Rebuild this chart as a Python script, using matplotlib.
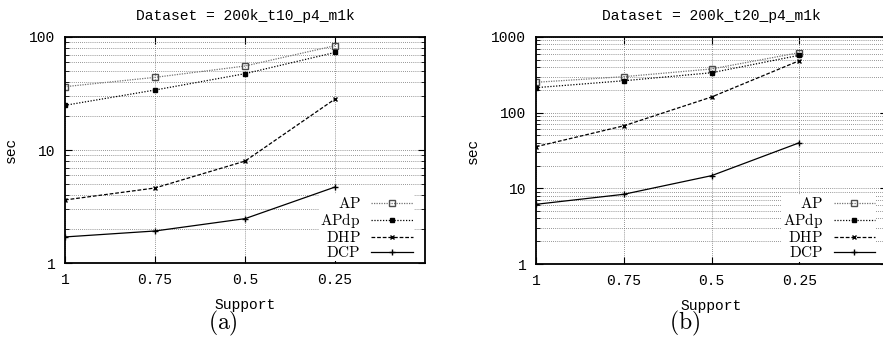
import matplotlib
matplotlib.use('Agg')
import matplotlib.pyplot as plt
from matplotlib.ticker import LogLocator, NullFormatter, FixedLocator

plt.rcParams['mathtext.fontset'] = 'cm'
mono = 'Liberation Mono'

support = [1, 0.75, 0.5, 0.25]
support_labels = ['1', '0.75', '0.5', '0.25']

# (a) 200k_t10_p4_m1k
t10_ap = [36.4, 44.0, 55.4, 83.8]
t10_apdp = [24.9, 34.0, 47.4, 73.0]
t10_dhp = [3.63, 4.63, 8.0, 28.3]
t10_dcp = [1.71, 1.93, 2.48, 4.72]

# (b) 200k_t20_p4_m1k
t20_ap = [252, 299, 378, 621]
t20_apdp = [214, 264, 337, 573]
t20_dhp = [35.5, 67, 161, 486]
t20_dcp = [6.15, 8.34, 14.7, 40]

names = ['AP', 'APdp', 'DHP', 'DCP']

styles = [
    dict(color='0.45', linestyle=(0, (1, 1)), marker='s', ms=4.5, mfc='none', mec='0.3', mew=1.0),
    dict(color='black', linestyle=(0, (1, 1.3)), marker='s', ms=3.2, mfc='black', mec='black'),
    dict(color='black', linestyle=(0, (3, 1.5)), marker='x', ms=3.5, mew=1.0),
    dict(color='black', linestyle='-', marker='+', ms=4.5, mew=1.0),
]

fig = plt.figure(figsize=(8.83, 3.37), dpi=100)


def draw(ax, series, ytop, title, tag, tagx):
    for name, ys, st in zip(names, series, styles):
        ax.plot(support, ys, lw=0.9, label=r'$\mathrm{%s}$' % name, **st)
    ax.set_yscale('log')
    ax.set_ylim(1, ytop)
    ax.set_xlim(1, 0)
    ax.xaxis.set_major_locator(FixedLocator(support))
    ax.set_xticklabels(support_labels)
    ax.yaxis.set_major_locator(LogLocator(base=10))
    ax.yaxis.set_minor_locator(LogLocator(base=10, subs=range(2, 10)))
    ax.yaxis.set_minor_formatter(NullFormatter())
    ax.yaxis.set_major_formatter(plt.FuncFormatter(lambda v, p: '%d' % v))
    ax.grid(True, which='both', axis='y', color='0.45', linestyle=(0, (1, 1.5)), lw=0.6)
    ax.grid(True, which='major', axis='x', color='0.45', linestyle=(0, (1, 1.5)), lw=0.6)
    ax.tick_params(which='major', direction='in', length=5, top=True, right=True, pad=7,
                   labelsize=10.5)
    ax.tick_params(which='minor', direction='in', length=3, right=True)
    for lab in ax.get_xticklabels() + ax.get_yticklabels():
        lab.set_family(mono)
    for sp in ax.spines.values():
        sp.set_linewidth(1.3)
    ax.set_xlabel('Support', family=mono, fontsize=10.5, labelpad=8)
    ax.set_ylabel('sec', family=mono, fontsize=10.5, labelpad=8)
    ax.set_title(title, family=mono, fontsize=10.5, pad=12)
    leg = ax.legend(loc='lower right', bbox_to_anchor=(0.97, 0.01), markerfirst=False,
                    fontsize=11, handlelength=2.7, handletextpad=0.7, labelspacing=0.0,
                    handleheight=0.5, borderpad=0.1, borderaxespad=0.0, frameon=True,
                    fancybox=False)
    leg.get_frame().set_edgecolor('none')
    leg.get_frame().set_facecolor('white')
    leg.get_frame().set_alpha(1.0)
    fig.text(tagx, 0.04, r'$\mathrm{(%s)}$' % tag, fontsize=17, ha='center', va='center')


ax1 = fig.add_axes([65 / 883, 1 - 263.3 / 337, 360 / 883, 226.3 / 337])
draw(ax1, [t10_ap, t10_apdp, t10_dhp, t10_dcp], 100,
     'Dataset = 200k_t10_p4_m1k', 'a', 223 / 883)

ax2 = fig.add_axes([536 / 883, 1 - 264 / 337, 351 / 883, 227 / 337])
draw(ax2, [t20_ap, t20_apdp, t20_dhp, t20_dcp], 1000,
     'Dataset = 200k_t20_p4_m1k', 'b', 685 / 883)

fig.savefig('out.png', dpi=100)
